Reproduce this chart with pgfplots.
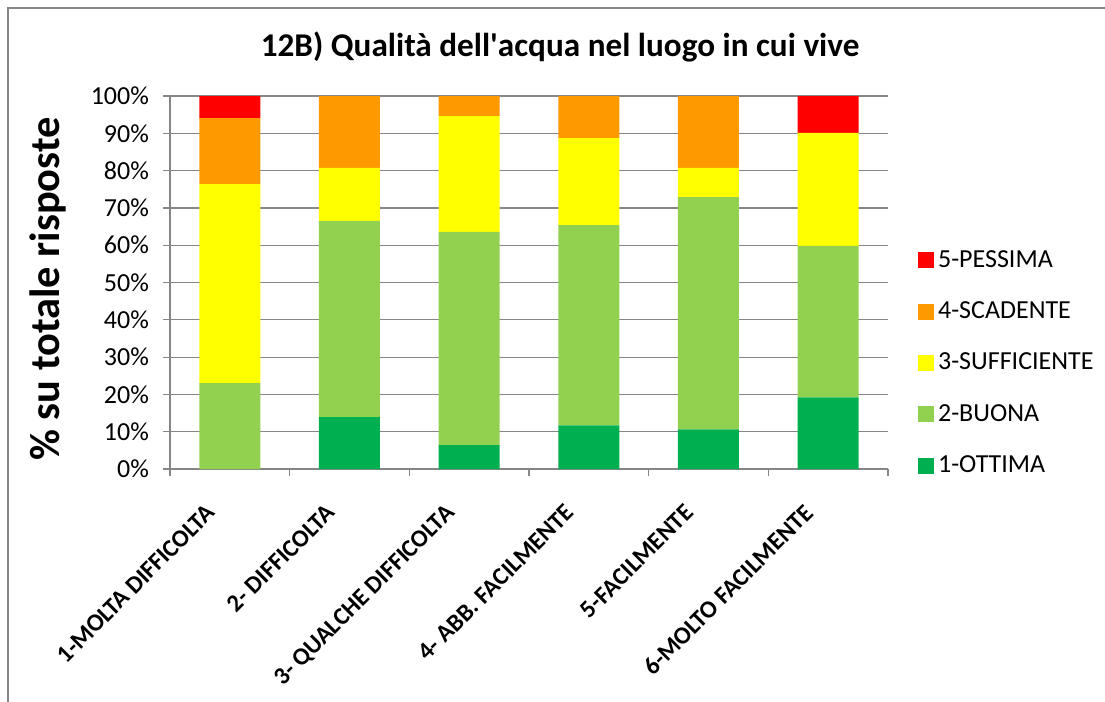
\documentclass[border=0pt]{standalone}
\usepackage{pgfplots}
\pgfplotsset{compat=1.18}
\usepackage{fontspec}
\setmainfont{Carlito}
\definecolor{cRed}{HTML}{FF0000}
\definecolor{cOrange}{HTML}{FF9900}
\definecolor{cYellow}{HTML}{FFFF00}
\definecolor{cLGreen}{HTML}{92D050}
\definecolor{cDGreen}{HTML}{00B050}
\definecolor{cGrid}{HTML}{868686}
\begin{document}
\begin{tikzpicture}
\useasboundingbox (0,0) rectangle (552.5pt,-351pt);
\draw[cGrid, line width=0.7pt] (4pt,-351pt) -- (4pt,-4pt) -- (552.5pt,-4pt);
\node[font=\fontsize{16.6}{19}\selectfont\bfseries] at (280pt,-23.5pt) {12B) Qualità dell\textquotesingle acqua nel luogo in cui vive};
\node[font=\fontsize{21.2}{25}\selectfont\bfseries, rotate=90] at (24pt,-144.5pt) {\% su totale risposte};
\begin{axis}[
  at={(85pt,-234.5pt)}, anchor=south west,
  width=359pt, height=186.5pt, scale only axis,
  ybar stacked, bar width=30.5pt,
  xmin=-0.5, xmax=5.5, ymin=0, ymax=100,
  axis x line*=bottom, axis y line*=left,
  axis line style={cGrid, line width=0.6pt, -},
  ymajorgrids, grid style={cGrid, line width=0.6pt},
  ytick={0,10,...,100},
  yticklabels={0\%,10\%,20\%,30\%,40\%,50\%,60\%,70\%,80\%,90\%,100\%},
  xtick={-0.5,0.5,...,5.5}, xticklabels={},
  extra x ticks={0,1,2,3,4,5},
  extra x tick labels={1-MOLTA DIFFICOLTA,2- DIFFICOLTA,3- QUALCHE DIFFICOLTA,4- ABB. FACILMENTE,5-FACILMENTE,6-MOLTO FACILMENTE},
  extra x tick style={major tick length=0pt, tick style={draw=none},
    xticklabel style={xshift=-12.5pt, yshift=-12pt, rotate=45, anchor=north east,
      font=\fontsize{12.3}{15}\selectfont\bfseries}},
  tick align=outside, major tick length=3.5pt,
  tick style={cGrid, line width=0.6pt},
  yticklabel style={font=\fontsize{13}{15}\selectfont, xshift=-3.5pt},
  /pgf/number format/assume math mode=true,
  legend style={at={(1.033,0.609)}, anchor=north west, draw=none, fill=none,
    font=\fontsize{13}{15}\selectfont, row sep=11.75pt},
  legend cell align=left,
  legend image code/.code={\fill[#1] (0pt,-4pt) rectangle (8pt,4pt);},
  reverse legend,
]
\addplot+[fill=cDGreen, draw=none] coordinates {(0,0) (1,13.9) (2,6.4) (3,11.7) (4,10.6) (5,19.2)};
\addlegendentry{1-OTTIMA}
\addplot+[fill=cLGreen, draw=none] coordinates {(0,23.0) (1,52.6) (2,57.2) (3,53.7) (4,62.3) (5,40.6)};
\addlegendentry{2-BUONA}
\addplot+[fill=cYellow, draw=none] coordinates {(0,53.4) (1,14.2) (2,31.0) (3,23.3) (4,7.8) (5,30.3)};
\addlegendentry{3-SUFFICIENTE}
\addplot+[fill=cOrange, draw=none] coordinates {(0,17.7) (1,19.3) (2,5.4) (3,11.3) (4,19.3) (5,0)};
\addlegendentry{4-SCADENTE}
\addplot+[fill=cRed, draw=none] coordinates {(0,5.9) (1,0) (2,0) (3,0) (4,0) (5,9.9)};
\addlegendentry{5-PESSIMA}
\end{axis}
\end{tikzpicture}
\end{document}
